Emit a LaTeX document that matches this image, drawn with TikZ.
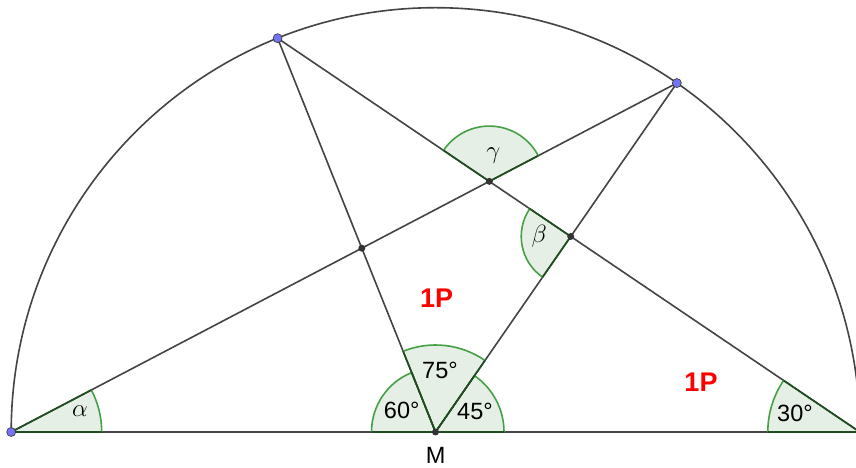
\documentclass[tikz,border=0pt]{standalone}
\usepackage{fontspec}
\setsansfont{Liberation Sans}
\usetikzlibrary{intersections,calc}
\definecolor{ln}{HTML}{444444}
\definecolor{angfill}{HTML}{E5EFE5}
\definecolor{angarc}{HTML}{46A046}
\definecolor{angside}{HTML}{1E4E1E}
\definecolor{ptblue}{HTML}{7474F2}
\definecolor{ptdark}{HTML}{333333}
\newcommand\angsec[4]{\fill[angfill] (#1) -- ++(#2:#4) arc[start angle=#2, end angle=#3, radius=#4] -- cycle;}
\newcommand\angarcs[4]{\draw[angarc, line width=1.6] (#1) ++(#2:#4) arc[start angle=#2, end angle=#3, radius=#4];
  \draw[angside, line width=1.6] (#1) -- ++(#2:#4) (#1) -- ++(#3:#4);}
\begin{document}
\begin{tikzpicture}[x=1pt,y=1pt,
  seg/.style={draw=ln, line width=1.6},
  bluept/.style={circle, fill=ptblue, draw=ptdark, line width=0.6, inner sep=0pt, minimum size=9},
  darkpt/.style={circle, fill=ptdark, inner sep=0pt, minimum size=7},
  deg/.style={font=\sffamily\fontsize{23.5}{26}\selectfont, text=black},
  greek/.style={font=\fontsize{27}{29}\selectfont},
  pts/.style={font=\sffamily\bfseries\fontsize{27}{30}\selectfont, text=red}]
\useasboundingbox (0,0) rectangle (856,468);
\clip (0,0) rectangle (856,468);
\fill[white] (0,0) rectangle (856,468);
% key points
\coordinate (M) at (435.5,36);
\coordinate (A) at (11.2,36);
\coordinate (B) at (859.8,36);
\coordinate (P1) at ($(M)+(111.85:424.3)$);
\coordinate (P2) at ($(M)+(55.33:424.3)$);
\path[name path=lAP2] (A) -- (P2);
\path[name path=lBP1] (B) -- (P1);
\path[name path=lMP1] (M) -- (P1);
\path[name path=lMP2] (M) -- (P2);
\path[name intersections={of=lAP2 and lMP1, by=S1}];
\path[name intersections={of=lAP2 and lBP1, by=S2}];
\path[name intersections={of=lBP1 and lMP2, by=S3}];
% sector fills
\angsec{A}{0}{27.65}{90.5}
\angsec{M}{111.85}{180}{64}
\angsec{M}{0}{55.33}{68.5}
\angsec{M}{55.33}{111.85}{87}
\angsec{B}{145.93}{180}{92}
\angsec{S2}{27.65}{145.93}{55.3}
\angsec{S3}{145.93}{235.33}{49.5}
% lines
\draw[seg] (B) arc[start angle=0, end angle=180, radius=424.3];
\draw[seg] (A) -- (B);
\draw[seg] (A) -- (P2);
\draw[seg] (B) -- (P1);
\draw[seg] (M) -- (P1);
\draw[seg] (M) -- (P2);
% sector outlines
\angarcs{A}{0}{27.65}{90.5}
\angarcs{M}{111.85}{180}{64}
\angarcs{M}{0}{55.33}{68.5}
\angarcs{M}{55.33}{111.85}{87}
\angarcs{B}{145.93}{180}{92}
\angarcs{S2}{27.65}{145.93}{55.3}
\angarcs{S3}{145.93}{235.33}{49.5}
% points
\node[bluept] (nA) at (A) {};
\node[bluept] (nP1) at (P1) {};
\node[bluept] (nP2) at (P2) {};
\node[darkpt] (nM) at (M) {};
\node[darkpt] (nS1) at (S1) {};
\node[darkpt] (nS2) at (S2) {};
\node[darkpt] (nS3) at (S3) {};
% labels
\node[greek] (la) at (80,57) {$\alpha$};
\node[greek] (lg) at (493.3,312) {$\gamma$};
\node[greek] (lb) at (539.3,231.3) {$\beta$};
\node[deg] (l60) at (401.7,58) {60°};
\node[deg] (l75) at (440,98) {75°};
\node[deg] (l45) at (475,56.3) {45°};
\node[deg] (l30) at (795,54.7) {30°};
\node[deg] (lM) at (435.7,13) {M};
\node[pts] (p1) at (436.7,169.7) {1P};
\node[pts] (p2) at (701,86) {1P};
\end{tikzpicture}
\end{document}
